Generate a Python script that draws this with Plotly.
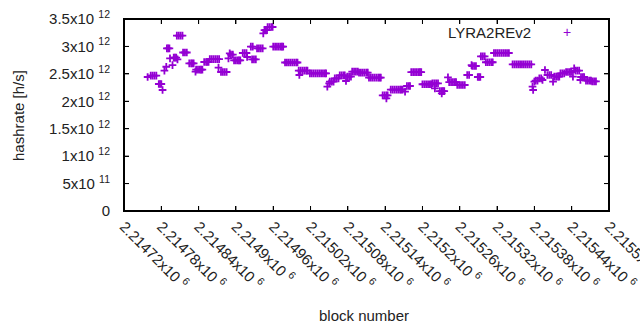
import plotly.graph_objects as go

# block numbers and hashrate (in units of 10^12 h/s)
block = [
    2214758,
    2214763, 2214766, 2214769, 2214772,
    2214776, 2214778, 2214780,
    2214782,
    2214785,
    2214788,
    2214789, 2214791, 2214793,
    2214794,
    2214798,
    2214800, 2214802, 2214804,
    2214806,
    2214805, 2214808, 2214811, 2214814,
    2214815, 2214818, 2214821,
    2214825, 2214828, 2214830, 2214832,
    2214835,
    2214836, 2214839, 2214842, 2214844, 2214846,
    2214849, 2214852, 2214854, 2214856,
    2214858, 2214861, 2214864, 2214867, 2214870, 2214873,
    2214872,
    2214876, 2214879, 2214882, 2214885,
    2214888,
    2214890,
    2214892, 2214895,
    2214897, 2214900, 2214903, 2214905, 2214907,
    2214911, 2214914, 2214917,
    2214918,
    2214924, 2214927,
    2214926, 2214929, 2214932,
    2214934, 2214937, 2214940, 2214943,
    2214944,
    2214946, 2214948, 2214950,
    2214951, 2214954, 2214957, 2214959,
    2214960, 2214963, 2214966, 2214969, 2214972, 2214974, 2214976,
    2214979, 2214982, 2214985, 2214988, 2214991, 2214994, 2214997, 2214999,
    2215002,
    2215001, 2215004, 2215007, 2215010, 2215013, 2215015,
    2215019, 2215022, 2215025, 2215028, 2215031, 2215034, 2215037, 2215040, 2215043, 2215045,
    2215047,
    2215050,
    2215051, 2215054, 2215057,
    2215059, 2215062, 2215065,
    2215067, 2215070, 2215073, 2215075,
    2215077,
    2215079, 2215082, 2215085,
    2215087, 2215090, 2215093, 2215096,
    2215098, 2215101, 2215104, 2215107, 2215110, 2215112,
    2215114, 2215117, 2215120, 2215123, 2215126, 2215129, 2215131, 2215133,
    2215136, 2215139, 2215142, 2215144,
    2215142,
    2215149, 2215152, 2215155, 2215158, 2215161, 2215164, 2215166, 2215168,
    2215172,
    2215175, 2215178, 2215180,
    2215182, 2215185, 2215188, 2215191, 2215194, 2215196, 2215198,
    2215200, 2215203, 2215206, 2215209, 2215212, 2215214,
    2215216, 2215219, 2215222, 2215225,
    2215220,
    2215228, 2215231, 2215233, 2215235,
    2215231,
    2215241,
    2215243, 2215246, 2215249, 2215252, 2215254,
    2215256, 2215259, 2215262, 2215265, 2215268,
    2215272, 2215275,
    2215279,
    2215280, 2215283, 2215286,
    2215289, 2215291, 2215293,
    2215294, 2215297, 2215300,
    2215302, 2215305, 2215308, 2215311, 2215313,
    2215315, 2215318, 2215321, 2215324, 2215327, 2215330, 2215333, 2215336, 2215339,
    2215345, 2215348, 2215351, 2215354, 2215357, 2215360, 2215363, 2215366, 2215369, 2215372, 2215375,
    2215377,
    2215378,
    2215380,
    2215382, 2215385,
    2215388, 2215391,
    2215393,
    2215397,
    2215401, 2215404, 2215407,
    2215410,
    2215412, 2215415, 2215418, 2215420,
    2215422, 2215425, 2215428,
    2215431, 2215434, 2215437, 2215439,
    2215442,
    2215444,
    2215446, 2215449, 2215452,
    2215454,
    2215455, 2215458, 2215460,
    2215463, 2215466, 2215469, 2215471,
    2215473, 2215476, 2215479,
]

hashrate = [
    2.443,
    2.466, 2.466, 2.466, 2.466,
    2.315, 2.315, 2.315,
    2.206,
    2.558,
    2.630,
    2.966, 2.966, 2.966,
    2.784,
    2.661,
    2.795, 2.795, 2.795,
    2.765,
    3.196, 3.196, 3.196, 3.196,
    2.889, 2.889, 2.889,
    2.692, 2.692, 2.692, 2.692,
    2.539,
    2.576, 2.576, 2.576, 2.576, 2.576,
    2.716, 2.716, 2.716, 2.716,
    2.767, 2.767, 2.767, 2.767, 2.767, 2.767,
    2.612,
    2.534, 2.534, 2.534, 2.534,
    2.784,
    2.875,
    2.849, 2.849,
    2.747, 2.747, 2.747, 2.747, 2.747,
    2.880, 2.880, 2.880,
    2.807,
    2.995, 2.995,
    2.765, 2.765, 2.765,
    2.966, 2.966, 2.966, 2.966,
    3.239,
    3.299, 3.299, 3.299,
    3.354, 3.354, 3.354, 3.354,
    2.995, 2.995, 2.995, 2.995, 2.995, 2.995, 2.995,
    2.707, 2.707, 2.707, 2.707, 2.707, 2.707, 2.707, 2.707,
    2.479,
    2.558, 2.558, 2.558, 2.558, 2.558, 2.558,
    2.510, 2.510, 2.510, 2.510, 2.510, 2.510, 2.510, 2.510, 2.510, 2.510,
    2.266,
    2.328,
    2.357, 2.357, 2.357,
    2.419, 2.419, 2.419,
    2.474, 2.474, 2.474, 2.474,
    2.370,
    2.448, 2.448, 2.448,
    2.539, 2.539, 2.539, 2.539,
    2.521, 2.521, 2.521, 2.521, 2.521, 2.521,
    2.430, 2.430, 2.430, 2.430, 2.430, 2.430, 2.430, 2.430,
    2.109, 2.109, 2.109, 2.109,
    2.054,
    2.211, 2.211, 2.211, 2.211, 2.211, 2.211, 2.211, 2.211,
    2.175,
    2.279, 2.279, 2.279,
    2.530, 2.530, 2.530, 2.530, 2.530, 2.530, 2.530,
    2.311, 2.311, 2.311, 2.311, 2.311, 2.311,
    2.328, 2.328, 2.328, 2.328,
    2.237,
    2.184, 2.184, 2.184, 2.184,
    2.146,
    2.437,
    2.348, 2.348, 2.348, 2.348, 2.348,
    2.297, 2.297, 2.297, 2.297, 2.297,
    2.479, 2.479,
    2.661,
    2.643, 2.643, 2.643,
    2.443, 2.443, 2.443,
    2.820, 2.820, 2.820,
    2.712, 2.712, 2.712, 2.712, 2.712,
    2.880, 2.880, 2.880, 2.880, 2.880, 2.880, 2.880, 2.880, 2.880,
    2.674, 2.674, 2.674, 2.674, 2.674, 2.674, 2.674, 2.674, 2.674, 2.674, 2.674,
    2.266,
    2.206,
    2.357,
    2.375, 2.375,
    2.419, 2.419,
    2.388,
    2.570,
    2.479, 2.479, 2.479,
    2.357,
    2.448, 2.448, 2.448, 2.448,
    2.510, 2.510, 2.510,
    2.534, 2.534, 2.534, 2.534,
    2.448,
    2.601,
    2.558, 2.558, 2.558,
    2.388,
    2.443, 2.443, 2.443,
    2.375, 2.375, 2.375, 2.375,
    2.364, 2.364, 2.364,
]

assert len(block) == len(hashrate)

x_range = [2214720, 2215500]
y_range = [0, 3.5]
x_tickvals = [2214720, 2214780, 2214840, 2214900, 2214960, 2215020, 2215080,
              2215140, 2215200, 2215260, 2215320, 2215380, 2215440, 2215500]
x_ticklabels = ["2.21472", "2.21478", "2.21484", "2.2149", "2.21496", "2.21502",
                "2.21508", "2.21514", "2.2152", "2.21526", "2.21532", "2.21538",
                "2.21544", "2.2155"]
y_tickvals = [0, 0.5, 1.0, 1.5, 2.0, 2.5, 3.0, 3.5]
y_ticklabels = ["0", "5x10 <sup>11</sup>", "1x10 <sup>12</sup>", "1.5x10 <sup>12</sup>",
                "2x10 <sup>12</sup>", "2.5x10 <sup>12</sup>", "3x10 <sup>12</sup>",
                "3.5x10 <sup>12</sup>"]

series_name = "LYRA2REv2"
color = "#9400D3"
LINE = "black"
FONT = "Liberation Sans"

W, H = 640, 330
ML, MR, MT, MB = 124, 31, 19, 119
plot_w, plot_h = W - ML - MR, H - MT - MB
TICK_PX = 5

# gnuplot-style border and inward ticks, drawn as thin filled rectangles
def bar(**kw):
    d = dict(type="rect", fillcolor=LINE, line=dict(width=0), layer="above")
    d.update(kw)
    return d

px_w, px_h = 1 / plot_w, 1 / plot_h
shapes = [
    bar(xref="paper", yref="paper", x0=0, x1=px_w, y0=0, y1=1),
    bar(xref="paper", yref="paper", x0=1 - px_w, x1=1, y0=0, y1=1),
    bar(xref="paper", yref="paper", x0=0, x1=1, y0=0, y1=px_h),
    bar(xref="paper", yref="paper", x0=0, x1=1, y0=1 - px_h, y1=1),
]
for tv in x_tickvals[1:-1]:
    shapes.append(bar(xref="x", xsizemode="pixel", xanchor=tv, x0=-0.5, x1=0.5,
                      yref="paper", y0=0, y1=TICK_PX * px_h))
    shapes.append(bar(xref="x", xsizemode="pixel", xanchor=tv, x0=-0.5, x1=0.5,
                      yref="paper", y0=1 - TICK_PX * px_h, y1=1))
for tv in y_tickvals[1:-1]:
    shapes.append(bar(yref="y", ysizemode="pixel", yanchor=tv, y0=-0.5, y1=0.5,
                      xref="paper", x0=0, x1=TICK_PX * px_w))
    shapes.append(bar(yref="y", ysizemode="pixel", yanchor=tv, y0=-0.5, y1=0.5,
                      xref="paper", x0=1 - TICK_PX * px_w, x1=1))

fig = go.Figure()
fig.add_trace(go.Scatter(
    x=block, y=hashrate, mode="markers", name=series_name,
    marker=dict(symbol="cross-thin", size=5.5, color=color,
                line=dict(color=color, width=1.8)),
    showlegend=False,
))

axis_common = dict(showline=True, linecolor=LINE, linewidth=1, mirror="allticks",
                   ticks="inside", ticklen=TICK_PX, tickwidth=1, tickcolor=LINE,
                   showgrid=False, zeroline=False, automargin=False,
                   ticklabeloverflow="allow",
                   tickfont=dict(family=FONT, size=15, color="#222"))

fig.update_xaxes(range=x_range, tickmode="array", tickvals=x_tickvals,
                 ticktext=[t + "x10 <sup>6</sup>" for t in x_ticklabels],
                 tickangle=45, **axis_common)
fig.update_yaxes(range=y_range, tickmode="array", tickvals=y_tickvals,
                 ticktext=y_ticklabels, ticklabelstandoff=10, **axis_common)

fig.update_layout(
    width=W, height=H,
    margin=dict(l=ML, r=MR, t=MT, b=MB, autoexpand=False),
    paper_bgcolor="white", plot_bgcolor="white",
    font=dict(family=FONT, size=15, color="#222"),
    shapes=shapes,
    annotations=[
        dict(text="block number", xref="paper", yref="paper", x=0.495, y=-0.5417,
             xanchor="center", yanchor="middle", showarrow=False,
             font=dict(family=FONT, size=15, color="#222")),
        dict(text="hashrate [h/s]", xref="paper", yref="paper", x=-0.2186, y=0.5,
             xanchor="center", yanchor="middle", textangle=-90, showarrow=False,
             font=dict(family=FONT, size=15, color="#222")),
        dict(text=series_name, xref="paper", yref="paper", x=0.8433, y=0.932,
             xanchor="right", yanchor="middle", showarrow=False,
             font=dict(family=FONT, size=15, color="#222")),
        dict(text="+", xref="paper", yref="paper", x=0.9134, y=0.932,
             xanchor="center", yanchor="middle", showarrow=False,
             font=dict(family=FONT, size=14, color=color)),
    ],
)

fig.write_html("out.html", config={"displayModeBar": False},
               post_script="document.body.style.margin='0';"
                           "document.body.style.overflow='hidden';")
